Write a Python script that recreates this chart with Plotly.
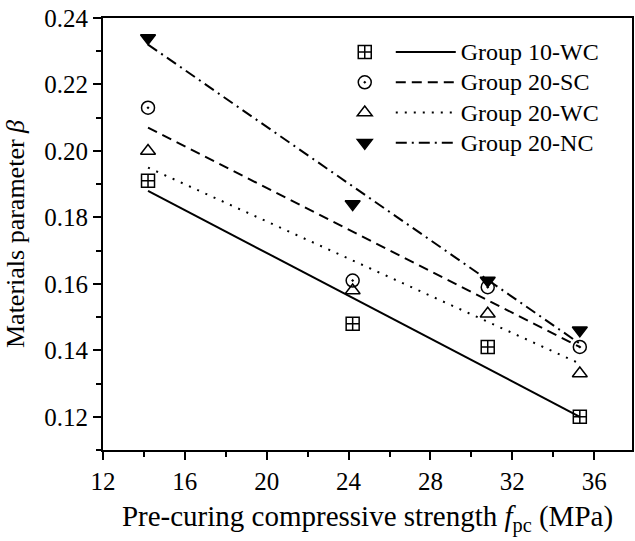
import plotly.graph_objects as go

# data
groups = ["Group 10-WC", "Group 20-SC", "Group 20-WC", "Group 20-NC"]
fpc = [14.2, 24.2, 30.8, 35.3]
beta_10wc = [0.191, 0.148, 0.141, 0.120]
beta_20sc = [0.213, 0.161, 0.159, 0.141]
beta_20wc = [0.200, 0.158, 0.151, 0.133]
beta_20nc = [0.234, 0.184, 0.161, 0.146]
fit_x = [14.2, 35.3]
fit_10wc = [0.188, 0.120]
fit_20sc = [0.207, 0.141]
fit_20wc = [0.195, 0.136]
fit_20nc = [0.232, 0.142]

x_ticks = [12, 16, 20, 24, 28, 32, 36]
y_ticks = [0.12, 0.14, 0.16, 0.18, 0.20, 0.22, 0.24]

series = [beta_10wc, beta_20sc, beta_20wc, beta_20nc]
fits = [fit_10wc, fit_20sc, fit_20wc, fit_20nc]
symbols = ["square-cross-open", "circle-open-dot", "triangle-up-open", "triangle-down"]
dashes = ["solid", "10px,6px", "2px,7px", "11px,5px,2px,5px"]

FONT = "Liberation Serif, Times New Roman, serif"
fig = go.Figure()

for name, ys, sym in zip(groups, series, symbols):
    fig.add_trace(go.Scatter(
        x=fpc, y=ys, mode="markers", name=" ", legend="legend",
        marker=dict(symbol=sym, size=13, color="black",
                    line=dict(width=1.5, color="black")),
    ))

for name, fy, d in zip(groups, fits, dashes):
    fig.add_trace(go.Scatter(
        x=fit_x, y=fy, mode="lines",
        name="<span style='font-size:24px'>" + name + "</span>", legend="legend2",
        line=dict(color="black", width=2, dash=d),
    ))

axis_common = dict(
    showline=True, linecolor="black", linewidth=2, mirror=True,
    ticks="outside", ticklen=8, tickwidth=2, tickcolor="black",
    showgrid=False, zeroline=False,
    tickfont=dict(family=FONT, size=25, color="black"),
)

fig.update_layout(
    width=635, height=541,
    margin=dict(l=103, r=1, t=18, b=91),
    paper_bgcolor="white", plot_bgcolor="white",
    font=dict(family=FONT, color="black"),
    xaxis=dict(range=[12, 37.85], tickvals=x_ticks,
               minor=dict(dtick=2, tick0=12, ticks="outside", ticklen=5, tickwidth=2, tickcolor="black"),
               title=dict(text="Pre-curing compressive strength <i>f</i><sub>pc</sub> (MPa)",
                          font=dict(family=FONT, size=29), standoff=12),
               **axis_common),
    yaxis=dict(range=[0.11, 0.24], tickvals=y_ticks, tickformat=".2f",
               minor=dict(dtick=0.01, tick0=0.12, ticks="outside", ticklen=5, tickwidth=2, tickcolor="black"),
               title=dict(text="Materials parameter <i>β</i>",
                          font=dict(family=FONT, size=26), standoff=12),
               **axis_common),
    legend=dict(x=0.457, y=0.968, xanchor="left", yanchor="top",
                bgcolor="rgba(0,0,0,0)", itemwidth=30,
                font=dict(family=FONT, size=21)),
    legend2=dict(x=0.544, y=0.968, xanchor="left", yanchor="top",
                 bgcolor="rgba(0,0,0,0)", itemwidth=60,
                 font=dict(family=FONT, size=21)),
)

fig.write_html("out.html")
